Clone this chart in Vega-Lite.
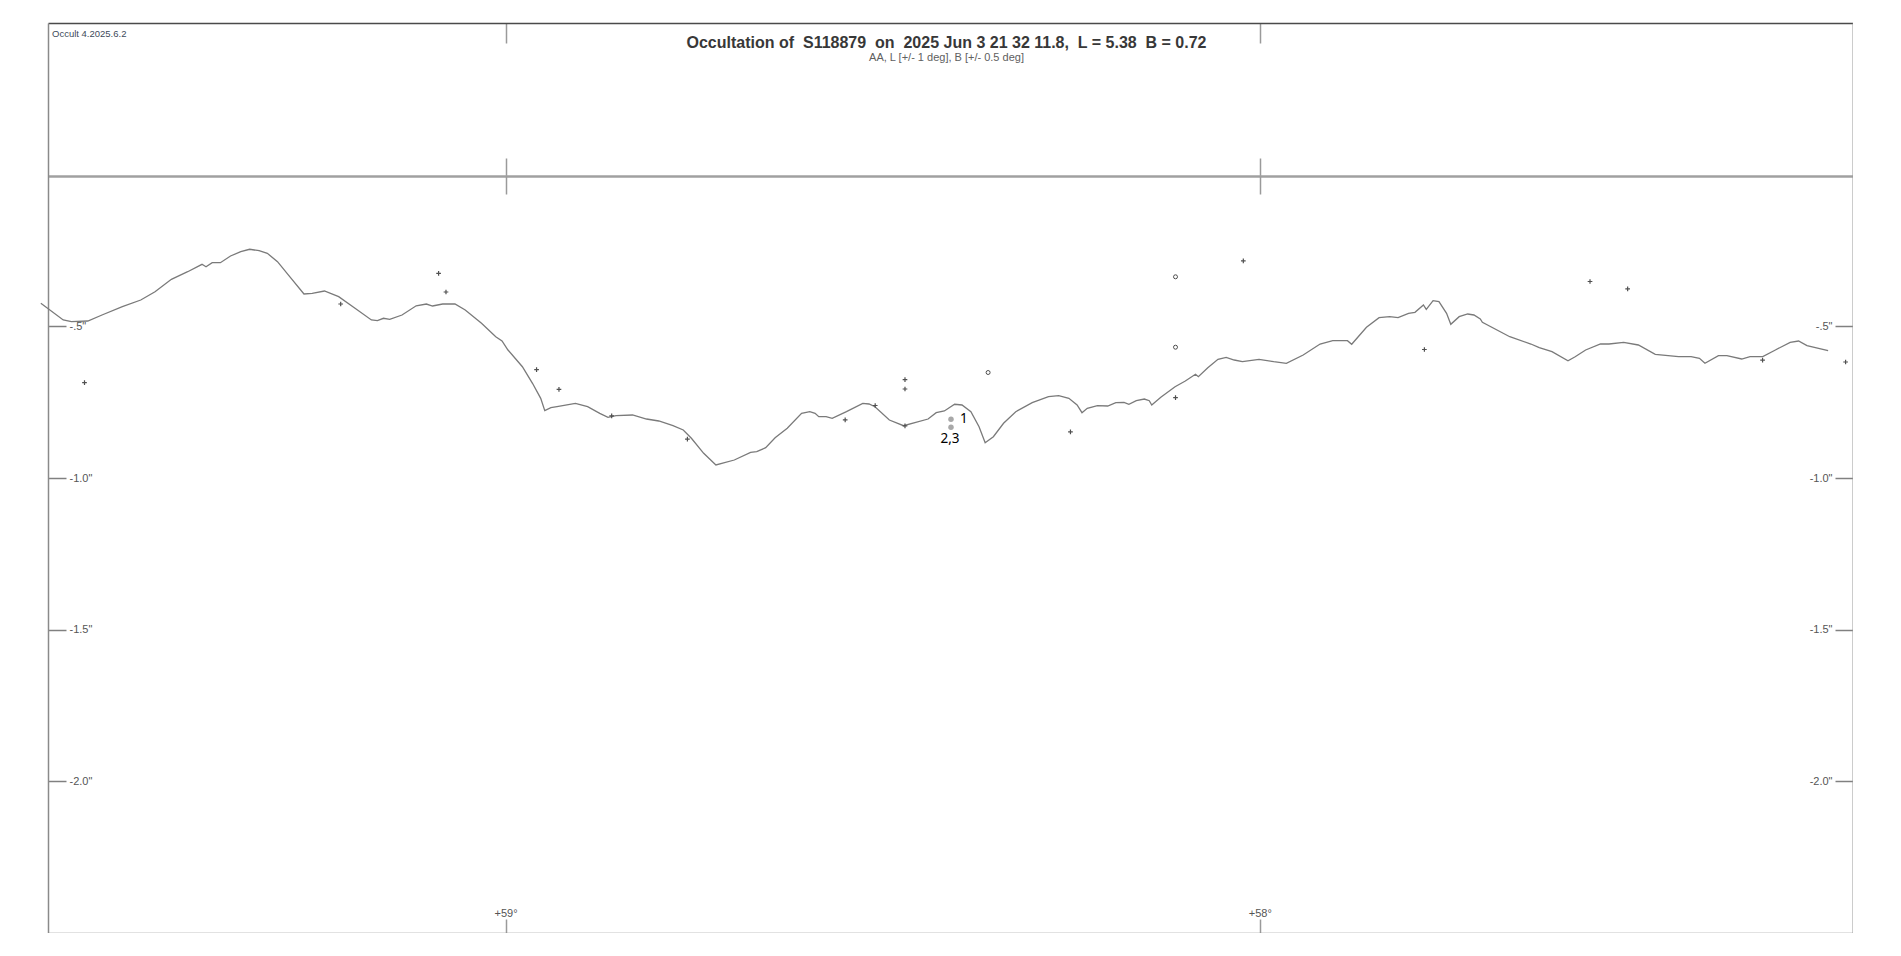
{
  "$schema": "https://vega.github.io/schema/vega-lite/v6.json",
  "width": 1805,
  "height": 910,
  "autosize": "none",
  "padding": {"left": 48, "top": 23, "right": 0, "bottom": 0},
  "background": "white",
  "config": {
    "view": {"stroke": null},
    "axis": {"grid": false, "title": null, "labelFont": "Liberation Sans", "labelFontSize": 11, "labelColor": "#555555", "labelFlush": false, "labelOverlap": false}
  },
  "title": {
    "text": "Occultation of\u00a0 S118879\u00a0 on\u00a0 2025 Jun 3 21 32 11.8,\u00a0 L = 5.38\u00a0 B = 0.72",
    "subtitle": "AA, L [+/- 1 deg], B [+/- 0.5 deg]",
    "anchor": "middle",
    "frame": "group",
    "orient": "top",
    "offset": -40.5,
    "dx": -4,
    "font": "Liberation Sans",
    "fontSize": 16,
    "fontWeight": "bold",
    "color": "#383838",
    "subtitleFont": "Liberation Sans",
    "subtitleFontSize": 11,
    "subtitleColor": "#606060",
    "subtitlePadding": 1
  },
  "datasets": {
    "limb": [
      {"AA":59.6162,"h":-0.4241},{"AA":59.5865,"h":-0.4791},{"AA":59.5757,"h":-0.4847},{"AA":59.5539,"h":-0.4824},{"AA":59.5351,"h":-0.4626},{"AA":59.5081,"h":-0.4353},{"AA":59.4837,"h":-0.4132},{"AA":59.4648,"h":-0.3858},{"AA":59.4431,"h":-0.3449},{"AA":59.4215,"h":-0.3199},{"AA":59.4025,"h":-0.2955},{"AA":59.3972,"h":-0.3034},{"AA":59.389,"h":-0.2902},{"AA":59.3781,"h":-0.2902},{"AA":59.3647,"h":-0.2681},{"AA":59.3511,"h":-0.254},{"AA":59.3393,"h":-0.246},{"AA":59.3268,"h":-0.2507},{"AA":59.3159,"h":-0.2592},{"AA":59.3024,"h":-0.2869},{"AA":59.2862,"h":-0.3364},{"AA":59.2673,"h":-0.3934},{"AA":59.2564,"h":-0.3911},{"AA":59.2402,"h":-0.3835},{"AA":59.2213,"h":-0.4023},{"AA":59.1996,"h":-0.4406},{"AA":59.1779,"h":-0.4791},{"AA":59.1699,"h":-0.4814},{"AA":59.1619,"h":-0.4735},{"AA":59.1536,"h":-0.4768},{"AA":59.1373,"h":-0.4626},{"AA":59.1185,"h":-0.4323},{"AA":59.105,"h":-0.4264},{"AA":59.0968,"h":-0.433},{"AA":59.0834,"h":-0.4264},{"AA":59.0671,"h":-0.4264},{"AA":59.0535,"h":-0.4461},{"AA":59.0319,"h":-0.49},{"AA":59.013,"h":-0.5342},{"AA":59.0047,"h":-0.5483},{"AA":58.9968,"h":-0.578},{"AA":58.9777,"h":-0.6331},{"AA":58.9643,"h":-0.6878},{"AA":58.9534,"h":-0.7373},{"AA":58.948,"h":-0.7781},{"AA":58.9399,"h":-0.7683},{"AA":58.9318,"h":-0.765},{"AA":58.9074,"h":-0.7538},{"AA":58.8912,"h":-0.765},{"AA":58.8751,"h":-0.7867},{"AA":58.8642,"h":-0.7999},{"AA":58.8535,"h":-0.7946},{"AA":58.8317,"h":-0.7923},{"AA":58.8131,"h":-0.8055},{"AA":58.7968,"h":-0.8121},{"AA":58.778,"h":-0.8276},{"AA":58.7644,"h":-0.8418},{"AA":58.7536,"h":-0.8691},{"AA":58.7373,"h":-0.9186},{"AA":58.7211,"h":-0.9571},{"AA":58.6967,"h":-0.9407},{"AA":58.6751,"h":-0.9153},{"AA":58.667,"h":-0.9133},{"AA":58.6551,"h":-0.9001},{"AA":58.6426,"h":-0.8671},{"AA":58.6265,"h":-0.8362},{"AA":58.6075,"h":-0.7867},{"AA":58.5966,"h":-0.7814},{"AA":58.5896,"h":-0.7867},{"AA":58.5847,"h":-0.7979},{"AA":58.575,"h":-0.7979},{"AA":58.5669,"h":-0.8032},{"AA":58.548,"h":-0.7814},{"AA":58.5264,"h":-0.7538},{"AA":58.5181,"h":-0.756},{"AA":58.5102,"h":-0.765},{"AA":58.4911,"h":-0.8088},{"AA":58.4723,"h":-0.8276},{"AA":58.4398,"h":-0.8055},{"AA":58.429,"h":-0.7847},{"AA":58.4182,"h":-0.7791},{"AA":58.4046,"h":-0.757},{"AA":58.3948,"h":-0.7593},{"AA":58.383,"h":-0.7814},{"AA":58.3722,"h":-0.8309},{"AA":58.3641,"h":-0.8836},{"AA":58.3532,"h":-0.8638},{"AA":58.3397,"h":-0.8197},{"AA":58.3235,"h":-0.7814},{"AA":58.3017,"h":-0.7518},{"AA":58.2801,"h":-0.732},{"AA":58.2666,"h":-0.7287},{"AA":58.2531,"h":-0.7373},{"AA":58.2422,"h":-0.7593},{"AA":58.2357,"h":-0.7847},{"AA":58.2287,"h":-0.7702},{"AA":58.2152,"h":-0.7617},{"AA":58.2016,"h":-0.7626},{"AA":58.1908,"h":-0.7518},{"AA":58.18,"h":-0.7504},{"AA":58.1735,"h":-0.757},{"AA":58.1637,"h":-0.7452},{"AA":58.153,"h":-0.7396},{"AA":58.1465,"h":-0.7452},{"AA":58.1432,"h":-0.7593},{"AA":58.1312,"h":-0.734},{"AA":58.1123,"h":-0.699},{"AA":58.0987,"h":-0.6802},{"AA":58.0852,"h":-0.6581},{"AA":58.0814,"h":-0.666},{"AA":58.0689,"h":-0.6364},{"AA":58.0554,"h":-0.6087},{"AA":58.0445,"h":-0.6021},{"AA":58.0338,"h":-0.611},{"AA":58.023,"h":-0.6166},{"AA":58.001,"h":-0.6087},{"AA":57.9815,"h":-0.6166},{"AA":57.9647,"h":-0.6219},{"AA":57.9424,"h":-0.5945},{"AA":57.92,"h":-0.5583},{"AA":57.9032,"h":-0.5474},{"AA":57.8837,"h":-0.5474},{"AA":57.8781,"h":-0.5592},{"AA":57.8585,"h":-0.5032},{"AA":57.8418,"h":-0.4715},{"AA":57.8277,"h":-0.4682},{"AA":57.8166,"h":-0.4715},{"AA":57.8027,"h":-0.457},{"AA":57.7942,"h":-0.4537},{"AA":57.783,"h":-0.4297},{"AA":57.7792,"h":-0.4438},{"AA":57.7702,"h":-0.4155},{"AA":57.7624,"h":-0.4188},{"AA":57.7523,"h":-0.457},{"AA":57.7467,"h":-0.4933},{"AA":57.7356,"h":-0.4682},{"AA":57.7243,"h":-0.4593},{"AA":57.716,"h":-0.4626},{"AA":57.7076,"h":-0.4758},{"AA":57.7048,"h":-0.4867},{"AA":57.6685,"h":-0.5342},{"AA":57.6405,"h":-0.5583},{"AA":57.6294,"h":-0.5704},{"AA":57.6125,"h":-0.5836},{"AA":57.5913,"h":-0.6133},{"AA":57.5818,"h":-0.6001},{"AA":57.5679,"h":-0.578},{"AA":57.5482,"h":-0.5583},{"AA":57.537,"h":-0.5583},{"AA":57.5175,"h":-0.5527},{"AA":57.498,"h":-0.5615},{"AA":57.4756,"h":-0.5922},{"AA":57.4448,"h":-0.6001},{"AA":57.4281,"h":-0.6001},{"AA":57.417,"h":-0.6054},{"AA":57.4097,"h":-0.6219},{"AA":57.3918,"h":-0.5968},{"AA":57.3806,"h":-0.5968},{"AA":57.361,"h":-0.6077},{"AA":57.3499,"h":-0.6001},{"AA":57.333,"h":-0.6001},{"AA":57.3163,"h":-0.578},{"AA":57.2967,"h":-0.5527},{"AA":57.2856,"h":-0.5483},{"AA":57.2744,"h":-0.5638},{"AA":57.2464,"h":-0.5803}
    ],
    "stars": [
      {"AA":59.5583,"h":-0.6858,"kind":"plus"},{"AA":59.2186,"h":-0.4264,"kind":"plus"},{"AA":59.0888,"h":-0.3252,"kind":"plus"},{"AA":59.079,"h":-0.3868,"kind":"plus"},{"AA":58.9589,"h":-0.643,"kind":"plus"},{"AA":58.9292,"h":-0.7076,"kind":"plus"},{"AA":58.8593,"h":-0.7949,"kind":"plus"},{"AA":58.7589,"h":-0.8721,"kind":"plus"},{"AA":58.5497,"h":-0.8081,"kind":"plus"},{"AA":58.5099,"h":-0.761,"kind":"plus"},{"AA":58.4704,"h":-0.6756,"kind":"plus"},{"AA":58.4704,"h":-0.7066,"kind":"plus"},{"AA":58.4704,"h":-0.8279,"kind":"plus"},{"AA":58.251,"h":-0.8477,"kind":"plus"},{"AA":58.1117,"h":-0.7353,"kind":"plus"},{"AA":58.0218,"h":-0.284,"kind":"plus"},{"AA":57.7817,"h":-0.5764,"kind":"plus"},{"AA":57.5621,"h":-0.3522,"kind":"plus"},{"AA":57.5122,"h":-0.3763,"kind":"plus"},{"AA":57.3333,"h":-0.6117,"kind":"plus"},{"AA":57.2232,"h":-0.6176,"kind":"plus"},
      {"AA":58.3602,"h":-0.6522,"kind":"circle"},{"AA":58.1117,"h":-0.3367,"kind":"circle"},{"AA":58.1117,"h":-0.5688,"kind":"circle"}
    ],
    "chords": [
      {"chord":"1","AA":58.4094,"h":-0.8065},
      {"chord":"2,3","AA":58.4094,"h":-0.8329}
    ]
  },
  "resolve": {"axis": {"x": "independent", "y": "independent"}},
  "layer": [
    {
      "data": {"name": "limb"},
      "mark": {"type": "line", "color": "#7a7a7a", "strokeWidth": 1.3},
      "encoding": {
        "x": {"field": "AA", "type": "quantitative", "scale": {"domain": [57.2134, 59.6067], "reverse": true, "nice": false, "zero": false},
          "axis": {"orient": "bottom", "values": [59, 58], "tickSize": -14, "tickColor": "#9a9a9a", "tickWidth": 1.5, "labelPadding": -3, "labelBaseline": "alphabetic", "labelExpr": "'+' + datum.value + '°'", "domainColor": "#8a8a8a", "domainWidth": 1.5}},
        "y": {"field": "h", "type": "quantitative", "scale": {"domain": [-2.5, 0.5], "nice": false, "zero": false},
          "axis": {"orient": "left", "values": [-0.5, -1, -1.5, -2], "tickSize": -18, "tickColor": "#808080", "tickWidth": 1.5, "labelPadding": -3, "labelAlign": "left", "labelBaseline": "middle", "labelExpr": "datum.value == -0.5 ? '-.5\"' : '-' + format(-datum.value, '.1f') + '\"'", "domainColor": "#8a8a8a", "domainWidth": 1.5}}
      }
    },
    {
      "data": {"name": "stars"},
      "transform": [{"filter": "datum.kind == 'plus'"}],
      "mark": {"type": "point", "shape": "M-1,0H1M0,-1V1", "filled": false, "stroke": "#505050", "strokeWidth": 1.2, "size": 22, "opacity": 1},
      "encoding": {
        "x": {"field": "AA", "type": "quantitative", "scale": {"domain": [57.2134, 59.6067], "reverse": true, "nice": false, "zero": false},
          "axis": {"orient": "top", "values": [59, 58], "tickSize": -20, "tickColor": "#9a9a9a", "tickWidth": 1.5, "labels": false, "domainColor": "#4a4a4a", "domainWidth": 1.5}},
        "y": {"field": "h", "type": "quantitative", "scale": {"domain": [-2.5, 0.5], "nice": false, "zero": false},
          "axis": {"orient": "right", "values": [-0.5, -1, -1.5, -2], "tickSize": -18, "tickColor": "#808080", "tickWidth": 1.5, "labelPadding": -3, "labelAlign": "right", "labelBaseline": "middle", "labelExpr": "datum.value == -0.5 ? '-.5\"' : '-' + format(-datum.value, '.1f') + '\"'", "domainColor": "#9a9a9a", "domainWidth": 2}}
      }
    },
    {
      "data": {"name": "stars"},
      "transform": [{"filter": "datum.kind == 'circle'"}],
      "mark": {"type": "point", "shape": "circle", "filled": false, "stroke": "#505050", "strokeWidth": 1, "size": 16, "opacity": 1},
      "encoding": {
        "x": {"field": "AA", "type": "quantitative", "scale": {"domain": [57.2134, 59.6067], "reverse": true, "nice": false, "zero": false},
          "axis": {"orient": "top", "offset": -153, "values": [59, 58], "tickSize": 18, "tickColor": "#9a9a9a", "tickWidth": 1.5, "labels": false, "domainColor": "#a0a0a0", "domainWidth": 2.5}},
        "y": {"field": "h", "type": "quantitative", "scale": {"domain": [-2.5, 0.5], "nice": false, "zero": false}, "axis": null}
      }
    },
    {
      "data": {"name": "chords"},
      "mark": {"type": "point", "shape": "circle", "filled": true, "color": "#a8a8a8", "size": 30, "opacity": 1},
      "encoding": {
        "x": {"field": "AA", "type": "quantitative", "scale": {"domain": [57.2134, 59.6067], "reverse": true, "nice": false, "zero": false},
          "axis": {"orient": "top", "offset": -153, "values": [59, 58], "tickSize": -18, "tickColor": "#9a9a9a", "tickWidth": 1.5, "labels": false, "domain": false}},
        "y": {"field": "h", "type": "quantitative", "scale": {"domain": [-2.5, 0.5], "nice": false, "zero": false}, "axis": null}
      }
    },
    {
      "data": {"name": "chords"},
      "transform": [{"filter": "datum.chord == '1'"}],
      "mark": {"type": "text", "align": "left", "baseline": "middle", "dx": 9, "font": "Noto Sans", "fontSize": 13.5, "color": "#000000"},
      "encoding": {
        "x": {"field": "AA", "type": "quantitative", "scale": {"domain": [57.2134, 59.6067], "reverse": true, "nice": false, "zero": false}, "axis": null},
        "y": {"field": "h", "type": "quantitative", "scale": {"domain": [-2.5, 0.5], "nice": false, "zero": false}, "axis": null},
        "text": {"field": "chord"}
      }
    },
    {
      "data": {"name": "chords"},
      "transform": [{"filter": "datum.chord == '2,3'"}],
      "mark": {"type": "text", "align": "center", "baseline": "middle", "dx": -1, "dy": 11.5, "font": "Noto Sans", "fontSize": 13.5, "color": "#000000"},
      "encoding": {
        "x": {"field": "AA", "type": "quantitative", "scale": {"domain": [57.2134, 59.6067], "reverse": true, "nice": false, "zero": false}, "axis": null},
        "y": {"field": "h", "type": "quantitative", "scale": {"domain": [-2.5, 0.5], "nice": false, "zero": false}, "axis": null},
        "text": {"field": "chord"}
      }
    },
    {
      "data": {"values": [{"label": "Occult 4.2025.6.2", "AA": 59.6067, "h": 0.5}]},
      "mark": {"type": "text", "align": "left", "baseline": "top", "dx": 4, "dy": 6, "font": "Liberation Sans", "fontSize": 9.5, "color": "#3d4a5a"},
      "encoding": {
        "x": {"field": "AA", "type": "quantitative", "scale": {"domain": [57.2134, 59.6067], "reverse": true, "nice": false, "zero": false}, "axis": null},
        "y": {"field": "h", "type": "quantitative", "scale": {"domain": [-2.5, 0.5], "nice": false, "zero": false}, "axis": null},
        "text": {"field": "label"}
      }
    }
  ]
}
